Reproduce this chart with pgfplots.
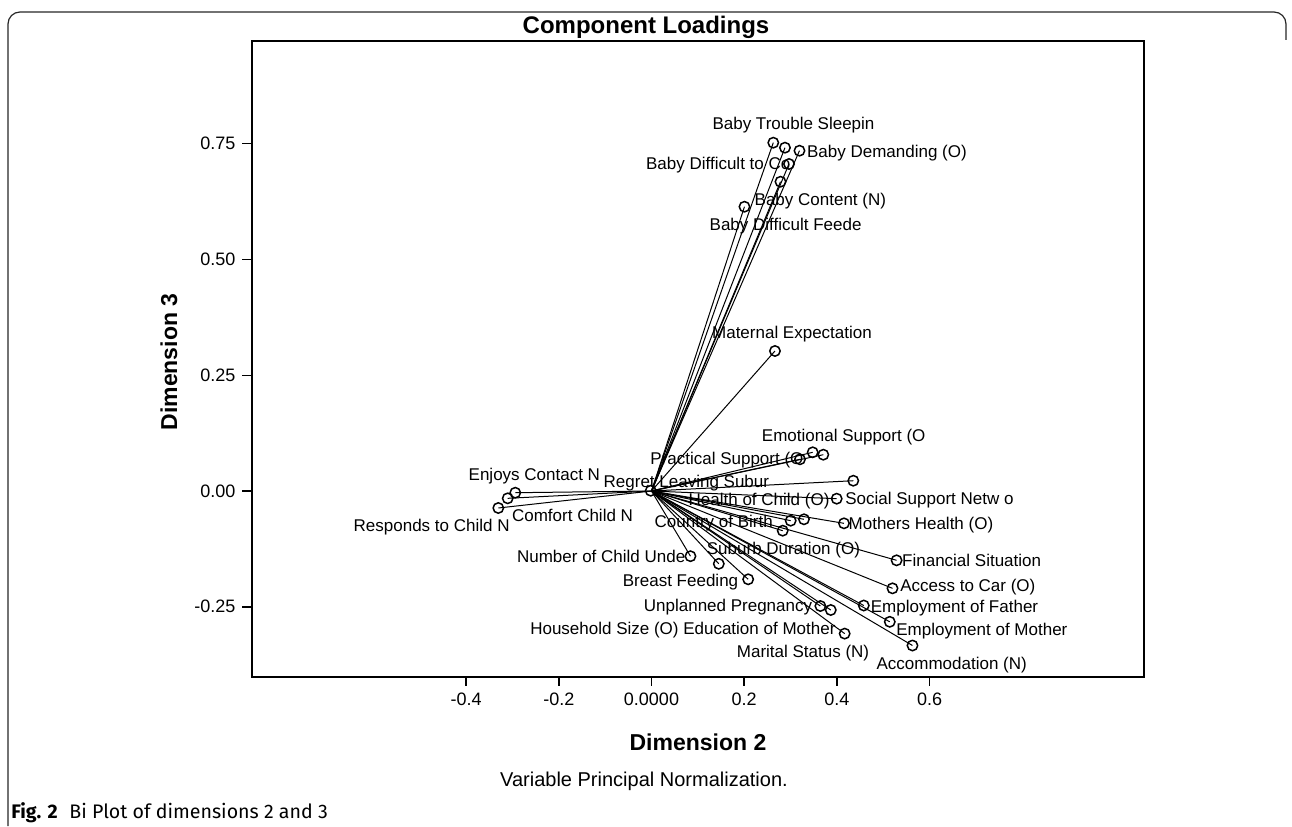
\documentclass[border=0pt]{standalone}
\usepackage{pgfplots}
\pgfplotsset{compat=1.18}
\usepackage{pgfplotstable}
\usepackage{fontspec}
\setmainfont{Liberation Sans}
\newfontfamily\capfont{Fira Sans}

\pgfplotstableread{
x y
0.2628 0.7523
0.2880 0.7415
0.3193 0.7350
0.2967 0.7063
0.2783 0.6680
0.2006 0.6140
0.2664 0.3024
-0.2939 -0.0037
-0.3102 -0.0158
-0.3305 -0.0367
-0.0017 0.0006
0.3204 0.0685
0.3478 0.0836
0.3707 0.0784
0.4354 0.0222
0.3996 -0.0166
0.3003 -0.0641
0.3290 -0.0611
0.2831 -0.0857
0.4153 -0.0698
0.0841 -0.1408
0.1452 -0.1572
0.2086 -0.1907
0.5288 -0.1497
0.5200 -0.2102
0.3644 -0.2484
0.3868 -0.2570
0.4580 -0.2473
0.5141 -0.2825
0.4168 -0.3080
0.5631 -0.3337
}\loadings

\begin{document}
\begin{tikzpicture}
\useasboundingbox (0pt,0pt) rectangle (646pt,413pt);

\begin{axis}[
  at={(125.75pt,74.5pt)}, anchor=south west,
  scale only axis, width=446.25pt, height=318pt,
  xmin=-0.8630, xmax=1.0626, ymin=-0.4017, ymax=0.9719,
  axis line style={line width=1pt},
  xtick={-0.4,-0.2,0,0.2,0.4,0.6},
  xticklabels={-0.4,-0.2,0.0000,0.2,0.4,0.6},
  ytick={-0.25,0,0.25,0.5,0.75},
  yticklabels={-0.25,0.00,0.25,0.50,0.75},
  tick align=outside, tick pos=left,
  major tick length=4.5pt,
  every tick/.style={line width=0.75pt, black},
  ticklabel style={font=\fontsize{9}{10}\selectfont},
  /pgf/number format/assume math mode=true,
  clip=false,
]
\addplot[black, line width=0.5pt, quiver={u=\thisrow{x}, v=\thisrow{y}}]
  table[x expr=0, y expr=0] {\loadings};
\addplot[only marks, mark=o, mark size=2.6pt, black, mark options={line width=0.75pt, fill=none}]
  table[x=x, y=y] {\loadings};
\end{axis}

\begin{scope}[x=0.5pt, y=-0.5pt, shift={(0pt,413pt)},
  lbl/.style={anchor=base west, inner sep=0pt, font=\fontsize{8.5}{10}\selectfont},
  lblc/.style={anchor=base, inner sep=0pt, font=\fontsize{8.5}{10}\selectfont}]
\draw[line width=0.6pt, black!85, rounded corners=6pt] (8,826) -- (8,12) -- (1286,12) -- (1286,40);

% title and axis titles
\node[font=\bfseries\fontsize{12}{14}\selectfont] at (646,27) {Component Loadings};
\node[font=\bfseries\fontsize{11.5}{13}\selectfont] at (698,742) {Dimension 2};
\node[font=\bfseries\fontsize{11.5}{13}\selectfont, rotate=90] at (169,362) {Dimension 3};
\node[font=\fontsize{10}{12}\selectfont] at (644,781) {Variable Principal Normalization.};
\node[anchor=base west, inner sep=0pt, font=\capfont\fontsize{9.8}{11}\selectfont] at (11,818) {\textbf{Fig. 2}\hspace{0.6em}Bi Plot of dimensions 2 and 3};

% point labels
\node[lblc] at (793.5,130) {Baby Trouble Sleepin};
\node[lbl] at (806.7,157.7) {Baby Demanding (O)};
\node[lbl] at (645.7,170) {Baby Difficult to Co};
\node[lbl] at (754.3,205.3) {Baby Content (N)};
\node[lbl] at (709.3,231) {Baby Difficult Feede};
\node[lblc] at (792,339) {Maternal Expectation};
\node[lblc] at (843.7,442) {Emotional Support (O};
\node[lbl] at (650,464.3) {Practical Support (O};
\node[lbl] at (603.3,487.5) {Regret Leaving Subur};
\node[lbl] at (468.3,480.3) {Enjoys Contact N};
\node[lbl] at (511.7,521.7) {Comfort Child N};
\node[lbl] at (353.3,532) {Responds to Child N};
\node[lbl] at (688.3,506) {Health of Child (O)};
\node[lbl] at (845,504.3) {Social Support Netw o};
\node[lbl] at (654.3,527) {Country of Birth};
\node[lbl] at (848.3,530) {Mothers Health (O)};
\node[lbl] at (706.5,554.3) {Suburb Duration (O)};
\node[lbl] at (516.7,562.7) {Number of Child Unde};
\node[lbl] at (901.8,566.5) {Financial Situation};
\node[lbl] at (622.5,587) {Breast Feeding};
\node[lbl] at (899.9,591.5) {Access to Car (O)};
\node[lbl] at (643.5,612) {Unplanned Pregnancy};
\node[lbl] at (870.5,612.5) {Employment of Father};
\node[lbl] at (529.9,634.3) {Household Size (O)};
\node[lbl] at (682.9,634.3) {Education of Mother};
\node[lbl] at (896,635.3) {Employment of Mother};
\node[lbl] at (736.5,657.7) {Marital Status (N)};
\node[lbl] at (876.2,669.3) {Accommodation (N)};
\end{scope}
\end{tikzpicture}
\end{document}
